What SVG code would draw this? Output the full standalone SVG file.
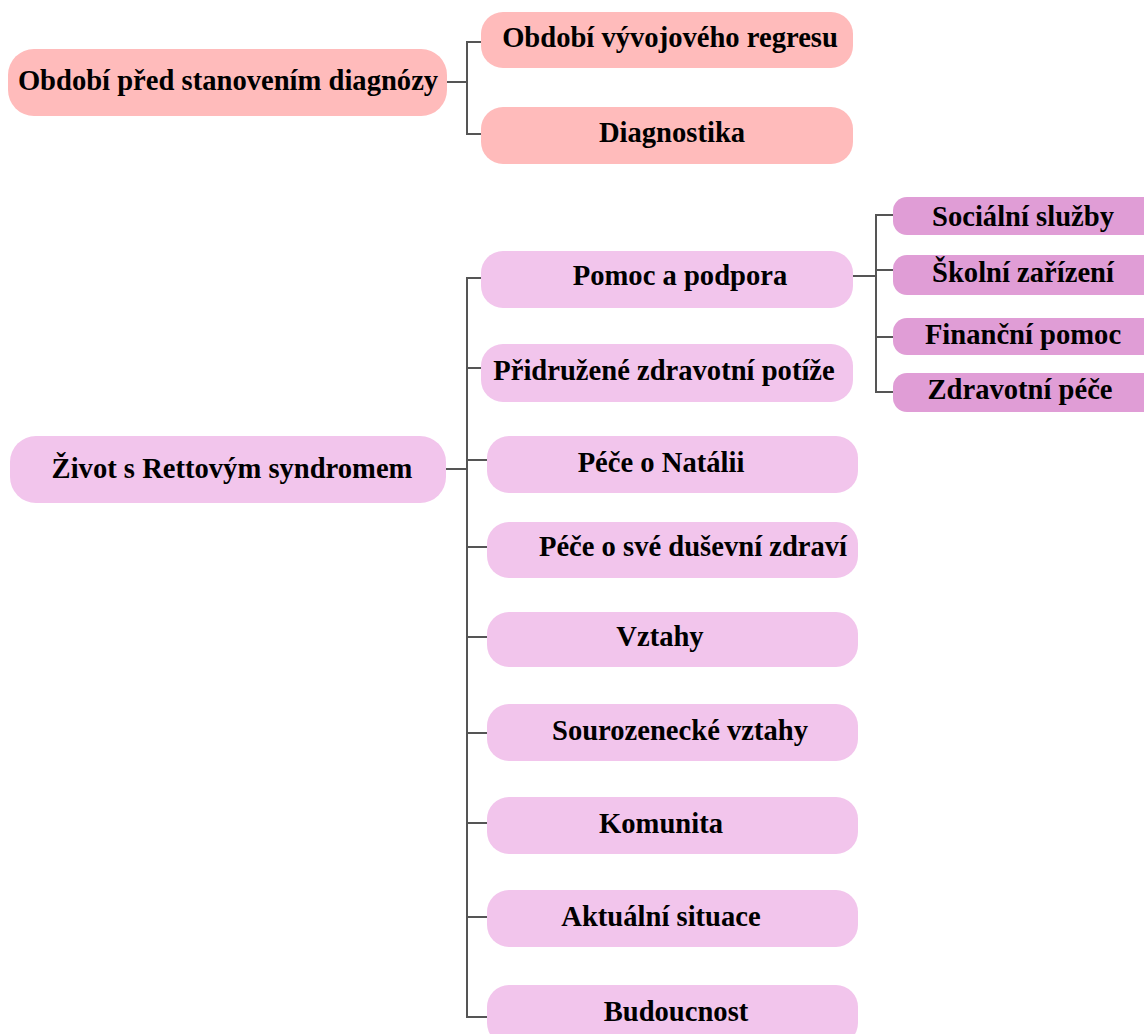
<svg xmlns="http://www.w3.org/2000/svg" width="1144" height="1034" viewBox="0 0 1144 1034">
<style>
  .t { font-family: "Liberation Serif", "Times New Roman", serif; font-weight: bold; font-size: 28.6px; fill: #000; text-anchor: middle; }
  .a { fill: #FFBBBB; }
  .b { fill: #F2C5EC; }
  .c { fill: #E09DD6; }
  .conn { fill: none; stroke: #555; stroke-width: 2; }
</style>
<rect width="1144" height="1034" fill="#fff"/>
<g id="connectors">
  <path class="conn" d="M447 82 H467 M481 42 H467 V134 H481"/>
  <path class="conn" d="M446 469 H467 M481 278 H467 V1017 H487 M467 368 H481 M467 460 H487 M467 547 H487 M467 637 H487 M467 733 H487 M467 823 H487 M467 917 H487"/>
  <path class="conn" d="M853 276 H876 M893 215 H876 V392 H893 M876 270 H893 M876 337 H893"/>
</g>
<g id="n-obdobi">
  <rect class="a" x="8" y="49" width="439" height="67" rx="26"/>
  <text class="t" x="228" y="90">Období před stanovením diagnózy</text>
</g>
<g id="n-regres">
  <rect class="a" x="481" y="12" width="372" height="56" rx="22"/>
  <text class="t" x="670" y="47">Období vývojového regresu</text>
</g>
<g id="n-diag">
  <rect class="a" x="481" y="107" width="372" height="57" rx="22"/>
  <text class="t" x="672" y="142">Diagnostika</text>
</g>
<g id="n-zivot">
  <rect class="b" x="10" y="436" width="436" height="67" rx="26"/>
  <text class="t" x="232" y="478">Život s Rettovým syndromem</text>
</g>
<g id="n-pomoc">
  <rect class="b" x="481" y="251" width="372" height="57" rx="22"/>
  <text class="t" x="680" y="285">Pomoc a podpora</text>
</g>
<g id="n-pridruzene">
  <rect class="b" x="481" y="344" width="372" height="58" rx="22"/>
  <text class="t" x="664" y="380">Přidružené zdravotní potíže</text>
</g>
<g id="n-natalie">
  <rect class="b" x="487" y="436" width="371" height="57" rx="22"/>
  <text class="t" x="661" y="472">Péče o Natálii</text>
</g>
<g id="n-dusevni">
  <rect class="b" x="487" y="522" width="371" height="56" rx="22"/>
  <text class="t" x="693" y="556">Péče o své duševní zdraví</text>
</g>
<g id="n-vztahy">
  <rect class="b" x="487" y="612" width="371" height="55" rx="22"/>
  <text class="t" x="660" y="646">Vztahy</text>
</g>
<g id="n-sourozenecke">
  <rect class="b" x="487" y="704" width="371" height="57" rx="22"/>
  <text class="t" x="680" y="740">Sourozenecké vztahy</text>
</g>
<g id="n-komunita">
  <rect class="b" x="487" y="797" width="371" height="57" rx="22"/>
  <text class="t" x="661" y="833">Komunita</text>
</g>
<g id="n-aktualni">
  <rect class="b" x="487" y="890" width="371" height="57" rx="22"/>
  <text class="t" x="661" y="926">Aktuální situace</text>
</g>
<g id="n-budoucnost">
  <rect class="b" x="487" y="985" width="371" height="60" rx="22"/>
  <text class="t" x="676" y="1021">Budoucnost</text>
</g>
<g id="n-socialni">
  <rect class="c" x="893" y="197" width="270" height="38" rx="14"/>
  <text class="t" x="1023" y="226">Sociální služby</text>
</g>
<g id="n-skolni">
  <rect class="c" x="893" y="255" width="270" height="40" rx="14"/>
  <text class="t" x="1023" y="282">Školní zařízení</text>
</g>
<g id="n-financni">
  <rect class="c" x="893" y="318" width="270" height="37" rx="14"/>
  <text class="t" x="1023" y="344">Finanční pomoc</text>
</g>
<g id="n-zdravotni">
  <rect class="c" x="893" y="373" width="270" height="39" rx="14"/>
  <text class="t" x="1020" y="399">Zdravotní péče</text>
</g>
</svg>
